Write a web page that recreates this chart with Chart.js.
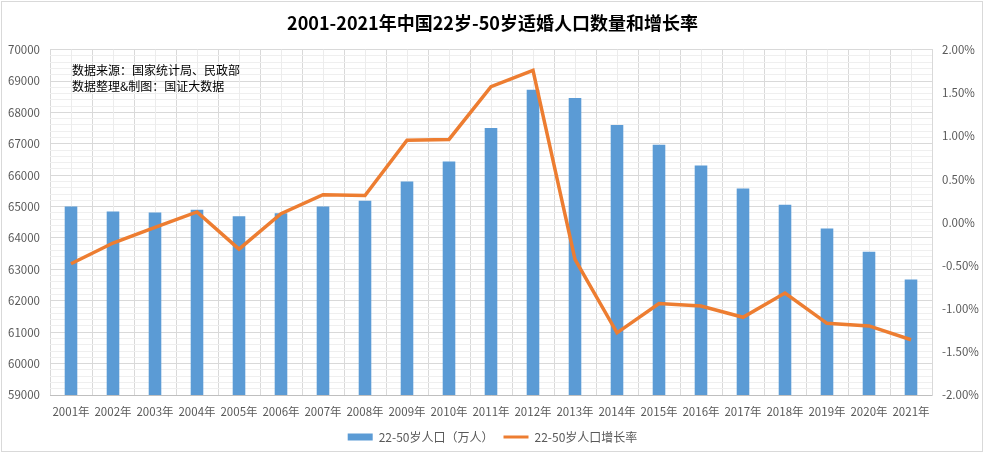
<!DOCTYPE html>
<html>
<head>
<meta charset="utf-8">
<script src="https://cdn.jsdelivr.net/npm/chart.js@4/dist/chart.umd.min.js"></script>
<style>
    html, body { margin: 0; padding: 0; background: #fff; }
    #wrap { position: relative; width: 985px; height: 456px; }
</style>
</head>
<body>
<div id="wrap"><canvas id="chart"></canvas></div>
<script>
// 22-50岁人口与增长率 — values
var years = ['2001年', '2002年', '2003年', '2004年', '2005年', '2006年', '2007年',
    '2008年', '2009年', '2010年', '2011年', '2012年', '2013年', '2014年',
    '2015年', '2016年', '2017年', '2018年', '2019年', '2020年', '2021年'];

var population = [65000, 64840, 64810, 64900, 64690, 64790, 65000, 65190, 65800, 66440,
    67500, 68720, 68460, 67600, 66970, 66310, 65580, 65060, 64300, 63560, 62680];

var growthRate = [-0.48, -0.24, -0.06, 0.12, -0.31, 0.10, 0.32, 0.31, 0.95, 0.96,
    1.57, 1.76, -0.43, -1.28, -0.94, -0.97, -1.10, -0.82, -1.17, -1.20, -1.36];

var titleText = '2001-2021年中国22岁-50岁适婚人口数量和增长率';
var noteLines = ['数据来源：国家统计局、民政部', '数据整理&制图：国证大数据'];
var barLabel = '22-50岁人口（万人）';
var lineLabel = '22-50岁人口增长率';

var BLUE = '#5b9bd5';
var ORANGE = '#ed7d31';
var TEXT = '#595959';

Chart.defaults.font.family = '"Noto Sans CJK SC", "Noto Sans", sans-serif';
Chart.defaults.color = TEXT;

// ── extra drawing: lighter grid at category centres, notes, frame ──
var decor = {
    id: 'decor',
    beforeDatasetsDraw: function (chart) {
        var ctx = chart.ctx, area = chart.chartArea, xs = chart.scales.x;
        ctx.save();
        ctx.strokeStyle = '#ececec';
        ctx.lineWidth = 1;
        for (var i = 0; i < years.length; i++) {
            var px = Math.round(xs.getPixelForTick(i)) + 0.5;
            ctx.beginPath();
            ctx.moveTo(px, area.top);
            ctx.lineTo(px, area.bottom);
            ctx.stroke();
        }
        ctx.restore();
    },
    afterDraw: function (chart) {
        var ctx = chart.ctx, area = chart.chartArea;
        ctx.save();
        ctx.fillStyle = '#000';
        ctx.font = '12px "Noto Sans CJK SC", sans-serif';
        ctx.textBaseline = 'middle';
        noteLines.forEach(function (t, i) {
            ctx.fillText(t, area.left + 22, area.top + 21 + i * 15.5);
        });
        ctx.strokeStyle = '#d9d9d9';
        ctx.strokeRect(1.5, 1.5, 981, 450);
        ctx.restore();
    }
};

new Chart(document.getElementById('chart').getContext('2d'), {
    type: 'bar',
    data: {
        labels: years,
        datasets: [{
            type: 'line',
            label: lineLabel,
            data: growthRate,
            yAxisID: 'y1',
            borderColor: ORANGE,
            backgroundColor: ORANGE,
            borderWidth: 3.5,
            pointRadius: 0,
            tension: 0
        }, {
            type: 'bar',
            label: barLabel,
            data: population,
            yAxisID: 'y',
            backgroundColor: BLUE,
            barPercentage: 0.3,
            categoryPercentage: 1
        }]
    },
    options: {
        responsive: true,
        maintainAspectRatio: false,
        animation: false,
        layout: { padding: { left: 0, right: 0, top: 0, bottom: 3 } },
        scales: {
            x: {
                offset: true,
                grid: { offset: true, color: '#d9d9d9', drawTicks: false },
                border: { color: '#bfbfbf' },
                ticks: { color: TEXT, font: { size: 11.5 }, padding: 10, maxRotation: 0, autoSkip: false },
                afterFit: function (s) { s.height = 26; }
            },
            y: {
                position: 'left',
                min: 59000,
                max: 70000,
                grid: {
                    drawTicks: false,
                    color: function (c) { return c.tick && c.tick.value % 1000 === 0 ? '#d9d9d9' : '#efefef'; }
                },
                border: { display: false },
                ticks: {
                    stepSize: 200,
                    autoSkip: false,
                    maxTicksLimit: 1000,
                    color: TEXT,
                    font: { size: 11.5 },
                    padding: 10,
                    callback: function (v) { return v % 1000 === 0 ? String(v) : ''; }
                },
                afterFit: function (s) { s.width = 50; }
            },
            y1: {
                position: 'right',
                min: -2,
                max: 2,
                grid: { drawOnChartArea: false, drawTicks: false },
                border: { color: '#d9d9d9' },
                ticks: {
                    stepSize: 0.5,
                    color: TEXT,
                    font: { size: 11.5 },
                    padding: 10,
                    callback: function (v) { return v.toFixed(2) + '%'; }
                },
                afterFit: function (s) { s.width = 53; }
            }
        },
        plugins: {
            title: {
                display: true,
                text: titleText,
                color: '#000',
                font: { size: 18, weight: 'bold' },
                padding: { top: 12, bottom: 16 }
            },
            legend: {
                position: 'bottom',
                labels: {
                    usePointStyle: true,
                    pointStyleWidth: 25,
                    boxHeight: 7,
                    padding: 10,
                    color: TEXT,
                    font: { size: 12 },
                    generateLabels: function () {
                        return [
                            { text: barLabel, datasetIndex: 1, pointStyle: 'rect', fillStyle: BLUE, strokeStyle: BLUE, lineWidth: 0, fontColor: TEXT },
                            { text: lineLabel, datasetIndex: 0, pointStyle: 'line', fillStyle: ORANGE, strokeStyle: ORANGE, lineWidth: 3, fontColor: TEXT }
                        ];
                    }
                }
            },
            tooltip: { enabled: false }
        }
    },
    plugins: [decor]
});
</script>
</body>
</html>
